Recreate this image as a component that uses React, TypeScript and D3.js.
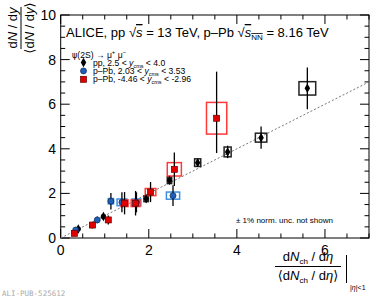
import React, { useEffect, useRef } from 'react';
import * as d3 from 'd3';

// pp, 2.5 < y < 4.0
const ppX = [0.40, 0.97, 1.94, 2.47, 3.11, 3.79, 4.55, 5.60];
const ppY = [0.40, 0.96, 1.76, 2.59, 3.38, 3.86, 4.50, 6.71];
const ppErr = [0.08, 0.08, 0.10, 0.15, 0.15, 0.28, 0.50, 0.94];
const ppSysX = [0.03, 0.04, 0.05, 0.05, 0.07, 0.08, 0.13, 0.19];
const ppSysY = [0.05, 0.06, 0.13, 0.15, 0.17, 0.22, 0.20, 0.30];

// p-Pb forward, 2.03 < y < 3.53
const fwdX = [0.34, 0.83, 1.14, 1.39, 1.72, 2.55];
const fwdY = [0.36, 0.81, 1.65, 1.60, 1.60, 1.90];
const fwdErr = [0.10, 0.15, 0.37, 0.45, 0.45, 0.47];
const fwdSysX = [0.04, 0.04, 0.06, 0.11, 0.10, 0.15];
const fwdSysY = [0.05, 0.06, 0.12, 0.15, 0.15, 0.16];

// p-Pb backward, -4.46 < y < -2.96
const bwdX = [0.31, 0.72, 1.08, 1.45, 1.70, 2.04, 2.58, 3.54];
const bwdY = [0.21, 0.58, 0.81, 1.56, 1.56, 2.06, 3.08, 5.37];
const bwdErrLo = [0.10, 0.15, 0.20, 0.50, 0.55, 0.45, 0.75, 1.56];
const bwdErrHi = [0.10, 0.15, 0.20, 0.50, 0.55, 0.45, 0.75, 2.09];
const bwdSysX = [0.04, 0.05, 0.05, 0.08, 0.10, 0.12, 0.16, 0.23];
const bwdSysY = [0.05, 0.08, 0.10, 0.15, 0.15, 0.16, 0.30, 0.71];

const xTicks = [0, 2, 4, 6];
const yTicks = [0, 2, 4, 6, 8, 10];

const App = () => {
  const svgRef = useRef(null);

  useEffect(() => {
    const width = 381;
    const height = 298;
    const left = 60.7, right = 369, top = 15, bottom = 238;
    const font = '"Liberation Sans", "DejaVu Sans", Arial, sans-serif';

    const svg = d3.select(svgRef.current);
    svg.selectAll('*').remove();
    svg.attr('width', width).attr('height', height).style('font-family', font).attr('fill', '#000');

    const x = d3.scaleLinear().domain([0, 7]).range([left, right]);
    const y = d3.scaleLinear().domain([0, 10]).range([bottom, top]);

    // ticks on all four sides
    const ticks = svg.append('g').attr('stroke', '#000').attr('stroke-width', 1);
    d3.range(0, 7.01, 0.5).forEach(v => {
      const len = v % 2 === 0 ? 9 : 4.5;
      ticks.append('line').attr('x1', x(v)).attr('x2', x(v)).attr('y1', bottom).attr('y2', bottom - len);
      ticks.append('line').attr('x1', x(v)).attr('x2', x(v)).attr('y1', top).attr('y2', top + len);
    });
    d3.range(0, 10.01, 0.5).forEach(v => {
      const len = v % 2 === 0 ? 9 : 4.5;
      ticks.append('line').attr('y1', y(v)).attr('y2', y(v)).attr('x1', left).attr('x2', left + len);
      ticks.append('line').attr('y1', y(v)).attr('y2', y(v)).attr('x1', right).attr('x2', right - len);
    });
    svg.append('rect')
      .attr('x', left).attr('y', top)
      .attr('width', right - left).attr('height', bottom - top)
      .attr('fill', 'none').attr('stroke', '#000').attr('stroke-width', 1);

    svg.selectAll('.xl').data(xTicks).enter().append('text')
      .attr('x', d => x(d)).attr('y', 255)
      .attr('text-anchor', 'middle').attr('font-size', 14).text(d => d);
    svg.selectAll('.yl').data(yTicks).enter().append('text')
      .attr('x', 56).attr('y', d => y(d) + 5)
      .attr('text-anchor', 'end').attr('font-size', 14).text(d => d);

    // y = x reference line
    svg.append('line')
      .attr('x1', x(0)).attr('y1', y(0)).attr('x2', x(7)).attr('y2', y(7))
      .attr('stroke', '#777').attr('stroke-width', 1).attr('stroke-dasharray', '2,2');

    const series = [
      { xs: ppX, ys: ppY, lo: ppErr, hi: ppErr, sx: ppSysX, sy: ppSysY, box: '#222', kind: 'diamond', fill: '#000' },
      { xs: fwdX, ys: fwdY, lo: fwdErr, hi: fwdErr, sx: fwdSysX, sy: fwdSysY, box: '#3b8fe0', kind: 'circle', fill: '#1f5fb8' },
      { xs: bwdX, ys: bwdY, lo: bwdErrLo, hi: bwdErrHi, sx: bwdSysX, sy: bwdSysY, box: '#ff3838', kind: 'square', fill: '#e00000' },
    ];

    const drawMarker = (g, kind, cx, cy, fill) => {
      if (kind === 'diamond') {
        g.append('path')
          .attr('d', d3.symbol().type(d3.symbolDiamond).size(26)())
          .attr('transform', `translate(${cx},${cy})`).attr('fill', fill);
      } else if (kind === 'circle') {
        g.append('circle').attr('cx', cx).attr('cy', cy).attr('r', 3)
          .attr('fill', fill).attr('stroke', '#0a2a55').attr('stroke-width', 0.7);
      } else {
        g.append('rect').attr('x', cx - 3).attr('y', cy - 3).attr('width', 6).attr('height', 6)
          .attr('fill', fill).attr('stroke', '#600').attr('stroke-width', 0.7);
      }
    };

    const plot = svg.append('g');
    series.forEach(s => {
      s.xs.forEach((xv, i) => {
        plot.append('rect')
          .attr('x', x(xv - s.sx[i])).attr('y', y(s.ys[i] + s.sy[i]))
          .attr('width', x(xv + s.sx[i]) - x(xv - s.sx[i]))
          .attr('height', y(s.ys[i] - s.sy[i]) - y(s.ys[i] + s.sy[i]))
          .attr('fill', 'none').attr('stroke', s.box).attr('stroke-width', 1.5);
      });
    });
    series.forEach(s => {
      s.xs.forEach((xv, i) => {
        plot.append('line')
          .attr('x1', x(xv)).attr('x2', x(xv))
          .attr('y1', y(s.ys[i] - s.lo[i])).attr('y2', y(s.ys[i] + s.hi[i]))
          .attr('stroke', '#000').attr('stroke-width', 1.3);
      });
    });
    series.forEach(s => {
      s.xs.forEach((xv, i) => drawMarker(plot, s.kind, x(xv), y(s.ys[i]), s.fill));
    });

    // title
    const t = svg.append('text').attr('x', 66).attr('y', 37).attr('font-size', 13);
    t.append('tspan').text('ALICE, pp ');
    t.append('tspan').text('√');
    t.append('tspan').attr('font-style', 'italic').style('text-decoration', 'overline').text('s');
    t.append('tspan').text(' = 13 TeV, p–Pb  √');
    t.append('tspan').attr('font-style', 'italic').style('text-decoration', 'overline').text('s');
    t.append('tspan').attr('font-size', 8).attr('dy', 3).style('text-decoration', 'overline').text('NN');
    t.append('tspan').attr('dy', -3).text(' = 8.16 TeV');

    // legend
    const lg = svg.append('g').attr('font-size', 8.6).attr('fill', '#000');
    const hdr = lg.append('text').attr('x', 72).attr('y', 57.5).attr('fill', '#000');
    hdr.append('tspan').attr('font-family', '"DejaVu Sans", sans-serif').attr('font-size', 8).text('ψ');
    hdr.append('tspan').text('(2S) → μ');
    hdr.append('tspan').attr('font-size', 6).attr('dy', -4).text('+');
    hdr.append('tspan').attr('dy', 4).text(' μ');
    hdr.append('tspan').attr('font-size', 6).attr('dy', -4).text('−');

    const entries = [
      ['pp, 2.5 < ', ' < 4.0'],
      ['p–Pb, 2.03 < ', ' < 3.53'],
      ['p–Pb, -4.46 < ', ' < -2.96'],
    ];
    entries.forEach((e, i) => {
      const yy = 62.5 + i * 8.4;
      drawMarker(lg, series[i].kind, 83.5, yy, series[i].fill);
      const tx = lg.append('text').attr('x', 93).attr('y', yy + 3);
      tx.append('tspan').text(e[0]);
      tx.append('tspan').attr('font-style', 'italic').text('y');
      tx.append('tspan').attr('font-size', 5.5).attr('dy', 2).text('cms');
      tx.append('tspan').attr('dy', -2).text(e[1]);
    });

    svg.append('text').attr('x', 236).attr('y', 223).attr('font-size', 8).text('± 1% norm. unc. not shown');

    // y-axis title (fraction, rotated)
    const yt = svg.append('g').attr('transform', 'translate(21,28) rotate(-90)').attr('font-size', 13).attr('text-anchor', 'middle');
    const yn = yt.append('text').attr('x', 0).attr('y', -4);
    yn.append('tspan').text('d');
    yn.append('tspan').attr('font-style', 'italic').text('N');
    yn.append('tspan').text(' / d');
    yn.append('tspan').attr('font-style', 'italic').text('y');
    yt.append('line').attr('x1', -21).attr('x2', 21).attr('y1', 0).attr('y2', 0).attr('stroke', '#000').attr('stroke-width', 1);
    const yd = yt.append('text').attr('x', 0).attr('y', 13);
    yd.append('tspan').text('⟨d');
    yd.append('tspan').attr('font-style', 'italic').text('N');
    yd.append('tspan').text(' / d');
    yd.append('tspan').attr('font-style', 'italic').text('y');
    yd.append('tspan').text('⟩');

    // x-axis title (fraction)
    const xt = svg.append('g').attr('font-size', 13).attr('text-anchor', 'middle');
    const xn = xt.append('text').attr('x', 308).attr('y', 261);
    xn.append('tspan').text('d');
    xn.append('tspan').attr('font-style', 'italic').text('N');
    xn.append('tspan').attr('font-size', 8).attr('dy', 3).text('ch');
    xn.append('tspan').attr('dy', -3).text(' / d');
    xn.append('tspan').attr('font-style', 'italic').text('η');
    xt.append('line').attr('x1', 275).attr('x2', 341).attr('y1', 266.5).attr('y2', 266.5).attr('stroke', '#000').attr('stroke-width', 1);
    const xd = xt.append('text').attr('x', 308).attr('y', 280);
    xd.append('tspan').text('⟨d');
    xd.append('tspan').attr('font-style', 'italic').text('N');
    xd.append('tspan').attr('font-size', 8).attr('dy', 3).text('ch');
    xd.append('tspan').attr('dy', -3).text(' / d');
    xd.append('tspan').attr('font-style', 'italic').text('η');
    xd.append('tspan').text('⟩');
    svg.append('line').attr('x1', 346.5).attr('x2', 346.5).attr('y1', 255).attr('y2', 283).attr('stroke', '#000').attr('stroke-width', 1);
    const sub = svg.append('text').attr('x', 350).attr('y', 290).attr('font-size', 7);
    sub.append('tspan').text('|');
    sub.append('tspan').attr('font-style', 'italic').text('η');
    sub.append('tspan').text('|<1');

    svg.append('text').attr('x', 2).attr('y', 296).attr('font-size', 7.5)
      .attr('font-family', '"DejaVu Sans Mono", monospace').attr('fill', '#aaa').text('ALI-PUB-525612');
  }, []);

  return (
    <svg ref={svgRef} style={{ position: 'absolute', left: 0, top: 0 }}></svg>
  );
};

export default App;
